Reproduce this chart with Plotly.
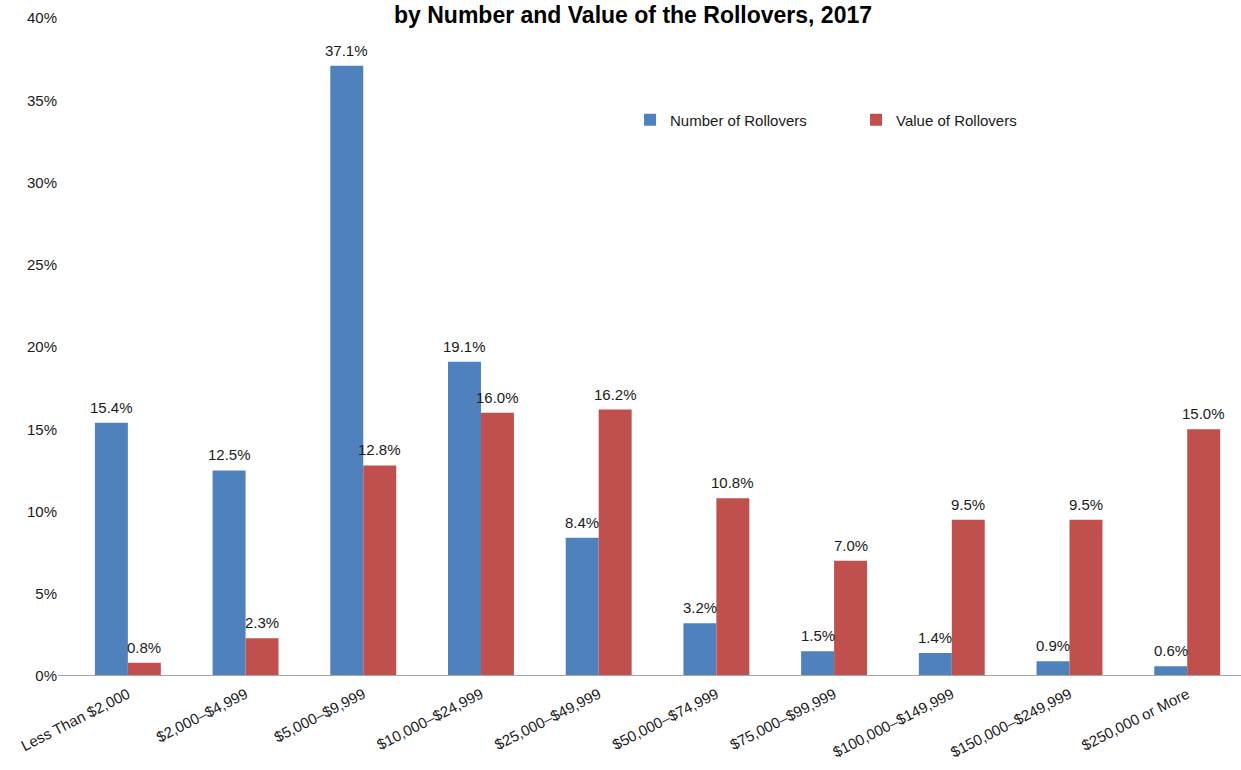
import plotly.graph_objects as go

categories = [
    "Less Than $2,000", "$2,000–$4,999", "$5,000–$9,999", "$10,000–$24,999",
    "$25,000–$49,999", "$50,000–$74,999", "$75,000–$99,999",
    "$100,000–$149,999", "$150,000–$249,999", "$250,000 or More",
]
number_pct = [15.4, 12.5, 37.1, 19.1, 8.4, 3.2, 1.5, 1.4, 0.9, 0.6]
value_pct = [0.8, 2.3, 12.8, 16.0, 16.2, 10.8, 7.0, 9.5, 9.5, 15.0]
y_ticks = [0, 5, 10, 15, 20, 25, 30, 35, 40]

FONT = "Liberation Sans, Arial, sans-serif"
TXT = "#1a1a1a"
BARGAP = 0.44
HALF_BAR = (1 - BARGAP) / 4  # centre of each bar relative to category centre

fig = go.Figure()
series = [
    ("Number of Rollovers", number_pct, "#4F81BD", -HALF_BAR),
    ("Value of Rollovers", value_pct, "#C0504D", HALF_BAR),
]
for name, vals, color, _ in series:
    fig.add_trace(go.Bar(
        name=name, x=categories, y=vals,
        marker=dict(color=color, line=dict(width=0)),
    ))

# value labels above each bar
for name, vals, color, off in series:
    for i, v in enumerate(vals):
        fig.add_annotation(
            x=i + off, y=v, xref="x", yref="y", text=f"{v:.1f}%",
            showarrow=False, xanchor="center", yanchor="bottom", yshift=5,
            font=dict(size=15, family=FONT, color=TXT),
        )

fig.update_layout(
    width=1241, height=770,
    margin=dict(l=69, r=0, t=18, b=94),
    paper_bgcolor="white", plot_bgcolor="white",
    barmode="group", bargap=BARGAP, bargroupgap=0,
    font=dict(family=FONT, size=15, color=TXT),
    showlegend=True,
    legend=dict(
        orientation="h", x=0.4787, y=0.845, xanchor="left", yanchor="middle",
        font=dict(size=15, family=FONT, color=TXT), itemwidth=30,
        bgcolor="rgba(0,0,0,0)", entrywidth=181,
    ),
)
fig.update_xaxes(
    range=[-0.5, 9.457], showline=False, showgrid=False,
    tickangle=-27, ticks="", ticklabelstandoff=6,
    tickfont=dict(size=15, family=FONT, color=TXT),
)
fig.update_yaxes(
    range=[0, 40], tickvals=y_ticks, ticktext=[f"{t}%" for t in y_ticks],
    showgrid=False, showline=False, zeroline=False, ticks="",
    ticklabelstandoff=11,
    tickfont=dict(size=15, family=FONT, color=TXT),
)

# horizontal category axis line along 0%
fig.add_shape(
    type="line", xref="paper", yref="y", x0=-0.0094, x1=1, y0=0, y1=0,
    line=dict(color="#A6A6A6", width=2), layer="above",
)

fig.add_annotation(
    text="<b>by Number and Value of the Rollovers, 2017</b>",
    xref="paper", yref="paper", x=0.481, y=1.0274,
    xanchor="center", yanchor="top", showarrow=False,
    font=dict(size=23, family=FONT, color="black"),
)

fig.write_html("out.html")
